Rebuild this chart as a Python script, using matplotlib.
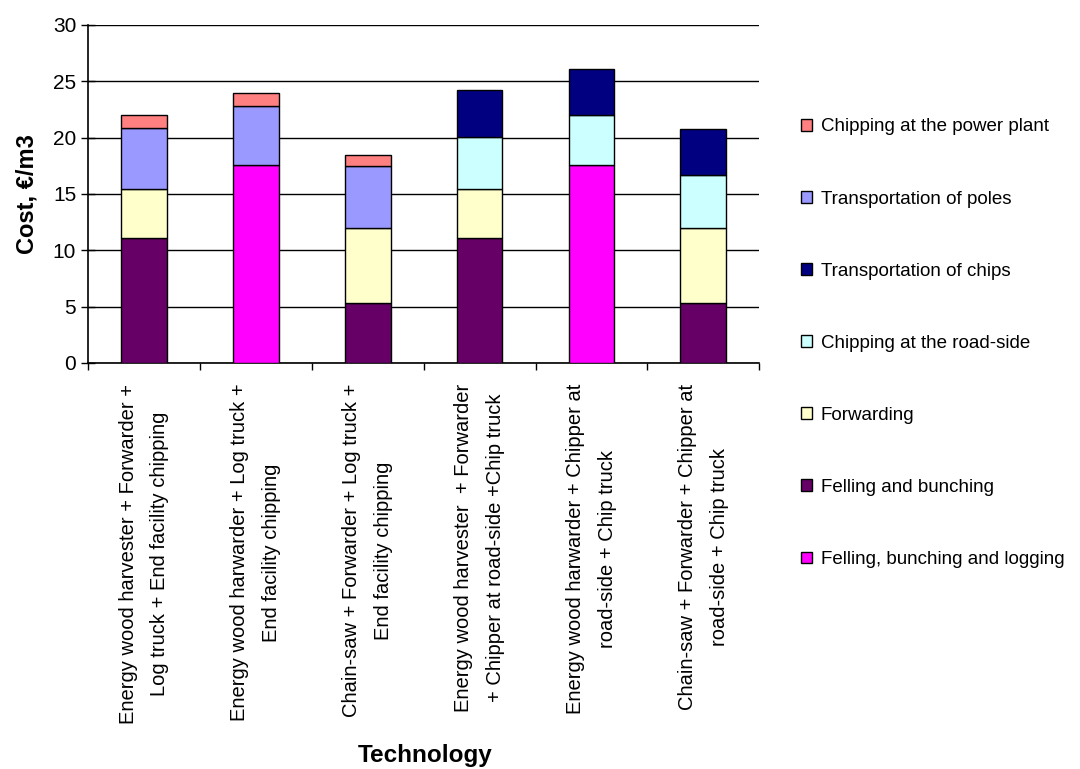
import matplotlib.pyplot as plt
from matplotlib.patches import Patch
import numpy as np

plt.rcParams['font.family'] = ['Liberation Sans', 'DejaVu Sans']

technologies = [
    "Energy wood harvester + Forwarder +\nLog truck + End facility chipping",
    "Energy wood harwarder + Log truck +\nEnd facility chipping",
    "Chain-saw + Forwarder + Log truck +\nEnd facility chipping",
    "Energy wood harvester  + Forwarder\n+ Chipper at road-side +Chip truck",
    "Energy wood harwarder + Chipper at\nroad-side + Chip truck",
    "Chain-saw + Forwarder + Chipper at\nroad-side + Chip truck",
]

# cost segments, EUR/m3 (0 = not part of that chain)
felling_bunching = [11.1, 0, 5.35, 11.1, 0, 5.35]
felling_bunching_logging = [0, 17.6, 0, 0, 17.6, 0]
forwarding = [4.3, 0, 6.65, 4.3, 0, 6.65]
chipping_roadside = [0, 0, 0, 4.7, 4.4, 4.7]
transport_chips = [0, 0, 0, 4.1, 4.1, 4.1]
transport_poles = [5.5, 5.2, 5.5, 0, 0, 0]
chipping_plant = [1.1, 1.2, 1.0, 0, 0, 0]

# bottom -> top stacking order
stack = [
    (felling_bunching, '#660066', 'Felling and bunching'),
    (felling_bunching_logging, '#FF00FF', 'Felling, bunching and logging'),
    (forwarding, '#FFFFCC', 'Forwarding'),
    (chipping_roadside, '#CCFFFF', 'Chipping at the road-side'),
    (transport_chips, '#000080', 'Transportation of chips'),
    (transport_poles, '#9999FF', 'Transportation of poles'),
    (chipping_plant, '#FF8080', 'Chipping at the power plant'),
]

legend_order = ['Chipping at the power plant', 'Transportation of poles',
                'Transportation of chips', 'Chipping at the road-side',
                'Forwarding', 'Felling and bunching',
                'Felling, bunching and logging']

fig = plt.figure(figsize=(10.8, 7.69), dpi=100)
ax = fig.add_axes([0.0815, 0.528, 0.6215, 0.4395])

x = np.arange(len(technologies))
bottom = np.zeros(len(technologies))
colors = {}
for vals, col, name in stack:
    vals = np.array(vals, dtype=float)
    m = vals > 0
    ax.bar(x[m], vals[m], 0.41, bottom=bottom[m], color=col,
           edgecolor='black', linewidth=1.0, zorder=3)
    bottom += vals
    colors[name] = col

ax.set_xlim(-0.5, len(technologies) - 0.5)
ax.set_ylim(0, 30)
ax.set_yticks(np.arange(0, 31, 5))
ax.yaxis.grid(True, color='black', linewidth=1.0, zorder=0)
ax.set_axisbelow(True)

ax.set_xticks(x)
ax.set_xticklabels(technologies, rotation=90, va='top', ha='center',
                   multialignment='center', fontsize=14.5, linespacing=1.85)
ax.set_xticks(np.arange(-0.5, len(technologies)), minor=True)
ax.tick_params(axis='x', which='major', length=0, pad=15)
ax.tick_params(axis='x', which='minor', length=5, width=1.0, direction='out')
ax.tick_params(axis='y', length=10, width=1.0, direction='inout', labelsize=15)

for s in ['top', 'right']:
    ax.spines[s].set_visible(False)
for s in ['left', 'bottom']:
    ax.spines[s].set_linewidth(1.2)

ax.set_ylabel('Cost, €/m3', fontsize=17, fontweight='bold', labelpad=10)
fig.text(0.394, 0.003, 'Technology', fontsize=17.5, fontweight='bold',
         ha='center', va='bottom')

handles = [Patch(facecolor=colors[n], edgecolor='black', linewidth=1.0, label=n)
           for n in legend_order]
fig.legend(handles=handles, loc='upper left', bbox_to_anchor=(0.726, 0.868),
           frameon=False, fontsize=13.5, labelspacing=2.94,
           handlelength=0.6, handleheight=0.6, handletextpad=0.45)

fig.savefig('out.png', dpi=100)
